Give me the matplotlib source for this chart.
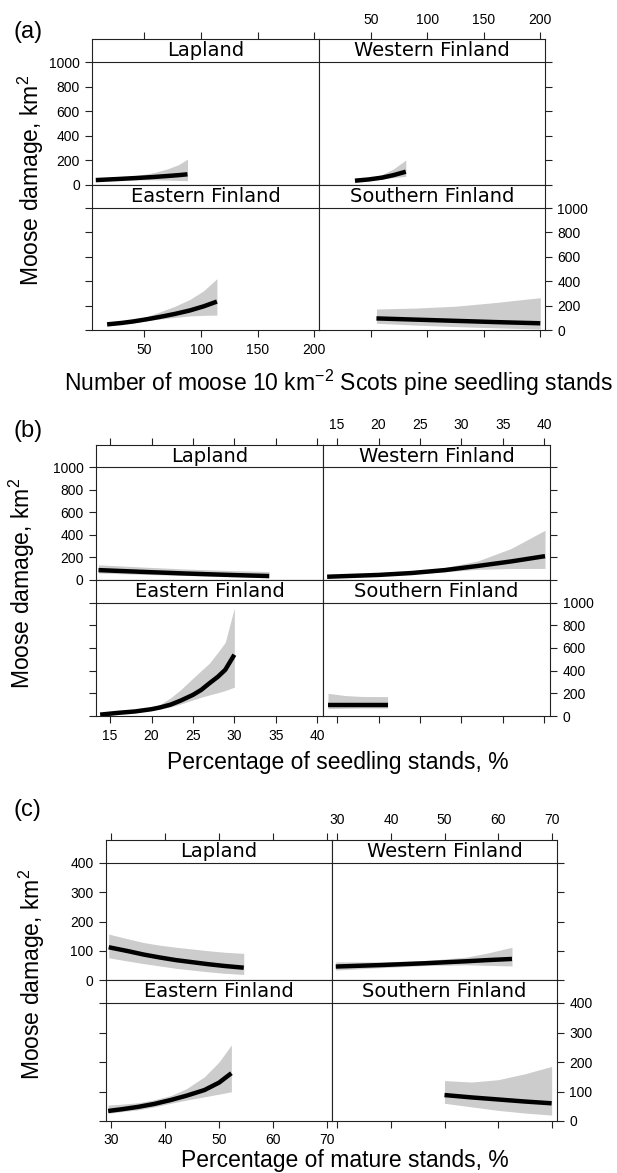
import matplotlib
matplotlib.use("Agg")
import matplotlib.pyplot as plt

plt.rcParams['font.family'] = ['Liberation Sans', 'DejaVu Sans']
plt.rcParams['mathtext.fontset'] = 'custom'
plt.rcParams['mathtext.rm'] = 'Liberation Sans'
plt.rcParams['mathtext.it'] = 'Liberation Sans:italic'
plt.rcParams['mathtext.bf'] = 'Liberation Sans:bold'

W, H = 617, 1173

regions = ["Lapland", "Western Finland", "Eastern Finland", "Southern Finland"]

# ---------------- Panel (a): moose density ----------------
a_xticks = [50, 100, 150, 200]
a_yticks = [0, 200, 400, 600, 800, 1000]
a_lap_x = [7, 25, 45, 58, 70, 80, 88]
a_lap_fit = [40, 48, 58, 65, 73, 80, 87]
a_lap_hi = [46, 58, 80, 100, 130, 165, 210]
a_lap_lo = [34, 39, 42, 42, 40, 37, 35]
a_wes_x = [36, 48, 60, 70, 81]
a_wes_fit = [35, 45, 60, 80, 108]
a_wes_hi = [40, 55, 85, 130, 203]
a_wes_lo = [30, 38, 48, 60, 70]
a_eas_x = [17, 30, 40, 52, 64, 77, 90, 102, 114]
a_eas_fit = [46, 58, 70, 88, 108, 132, 160, 193, 233]
a_eas_hi = [50, 64, 80, 110, 150, 195, 250, 320, 420]
a_eas_lo = [42, 54, 62, 76, 90, 103, 115, 120, 122]
a_sou_x = [55, 90, 125, 160, 200]
a_sou_fit = [95, 85, 75, 65, 55]
a_sou_hi = [172, 180, 195, 225, 265]
a_sou_lo = [55, 40, 28, 18, 8]

# ---------------- Panel (b): seedling stands % ----------------
b_xticks = [15, 20, 25, 30, 35, 40]
b_yticks = [0, 200, 400, 600, 800, 1000]
b_lap_x = [13.6, 19, 24, 29, 34.2]
b_lap_fit = [88, 72, 58, 46, 35]
b_lap_hi = [135, 115, 98, 85, 75]
b_lap_lo = [62, 50, 40, 30, 20]
b_wes_x = [13.8, 20, 24, 28, 32, 36, 40.1]
b_wes_fit = [29, 45, 62, 88, 125, 165, 212]
b_wes_hi = [32, 50, 70, 110, 170, 280, 442]
b_wes_lo = [26, 40, 55, 72, 95, 102, 103]
b_eas_x = [13.8, 16, 18, 20, 21, 22.3, 23.5, 25, 26, 27, 28, 28.9, 30]
b_eas_fit = [12, 28, 40, 60, 75, 100, 135, 186, 230, 289, 345, 407, 540]
b_eas_hi = [16, 32, 44, 70, 100, 160, 230, 333, 400, 466, 560, 649, 953]
b_eas_lo = [8, 24, 36, 50, 60, 80, 105, 142, 165, 186, 205, 224, 254]
b_sou_x = [13.9, 16, 18, 21.1]
b_sou_fit = [100, 100, 100, 100]
b_sou_hi = [200, 180, 172, 171]
b_sou_lo = [65, 68, 70, 70]

# ---------------- Panel (c): mature stands % ----------------
c_xticks = [30, 40, 50, 60, 70]
c_yticks = [0, 100, 200, 300, 400]
c_lap_x = [29.5, 33, 36, 39, 42, 45, 48, 51, 54.6]
c_lap_fit = [112, 99, 87, 77, 68, 61, 54, 48, 42]
c_lap_hi = [157, 141, 128, 119, 112, 106, 100, 95, 91]
c_lap_lo = [76, 65, 56, 48, 40, 34, 28, 23, 19]
c_wes_x = [29.7, 38, 46, 54, 58, 62.6]
c_wes_fit = [46, 51, 57, 64, 68, 72]
c_wes_hi = [62, 62, 66, 78, 92, 112]
c_wes_lo = [34, 42, 49, 52, 50, 48]
c_eas_x = [29.4, 32, 35, 38, 41, 44, 47.3, 50, 52.3]
c_eas_fit = [34, 40, 48, 58, 71, 86, 105, 130, 162]
c_eas_hi = [54, 57, 62, 72, 86, 110, 150, 200, 258]
c_eas_lo = [26, 32, 38, 48, 60, 71, 82, 91, 99]
c_sou_x = [50, 55, 60, 65, 70]
c_sou_fit = [88, 80, 73, 66, 60]
c_sou_hi = [137, 132, 140, 160, 185]
c_sou_lo = [60, 48, 36, 27, 20]

FRAME = '#222222'
BAND = '#cccccc'


def pos(l, r, t, b):
    return [l / W, 1 - b / H, (r - l) / W, (b - t) / H]


def draw_panel(letter, cols, rows, strip_px, xlim, xticks, yticks, series,
               xlabel, xlab_xy, ylab_xy, letter_xy):
    ymax = yticks[-1]
    for i in range(2):
        for j in range(2):
            k = i * 2 + j
            t, b = rows[i]
            l, r = cols[j]
            ax = fig.add_axes(pos(l, r, t, b))
            plot_px = (b - t) - strip_px
            sf = strip_px / plot_px
            ax.set_xlim(*xlim)
            ax.set_ylim(0, ymax * (1 + sf))
            x, fit, hi, lo = series[k]
            ax.fill_between(x, lo, hi, color=BAND, lw=0, zorder=1)
            ax.plot(x, fit, color='black', lw=3.2, solid_capstyle='butt',
                    solid_joinstyle='round', zorder=2)
            ax.axhline(ymax, color=FRAME, lw=0.8, zorder=3)
            ax.text(0.5, ymax * (1 + sf / 2), regions[k], transform=ax.get_yaxis_transform(),
                    ha='center', va='center', fontsize=14, family='DejaVu Sans')
            for s in ax.spines.values():
                s.set_color(FRAME)
                s.set_linewidth(0.8)
            ax.set_xticks(xticks)
            ax.set_yticks(yticks)
            ax.tick_params(direction='out', length=5, width=0.8, color=FRAME,
                           labelsize=10, pad=4,
                           top=(i == 0), bottom=(i == 1),
                           left=(j == 0), right=(j == 1),
                           labeltop=(i == 0 and j == 1), labelbottom=(i == 1 and j == 0),
                           labelleft=(i == 0 and j == 0), labelright=(i == 1 and j == 1))
    fig.text(xlab_xy[0] / W, 1 - xlab_xy[1] / H, xlabel, ha='center', va='center', fontsize=16.5)
    fig.text(ylab_xy[0] / W, 1 - ylab_xy[1] / H, r"Moose damage, km$^{2}$", ha='center', va='center',
             rotation=90, fontsize=16.5)
    fig.text(letter_xy[0] / W, 1 - letter_xy[1] / H, letter, ha='center', va='center', fontsize=17)


fig = plt.figure(figsize=(W / 100, H / 100), dpi=100)

draw_panel("(a)", [(92.4, 318.8), (318.8, 544.8)], [(39, 185), (185, 330)], 23,
           (4, 204), a_xticks, a_yticks,
           [(a_lap_x, a_lap_fit, a_lap_hi, a_lap_lo), (a_wes_x, a_wes_fit, a_wes_hi, a_wes_lo),
            (a_eas_x, a_eas_fit, a_eas_hi, a_eas_lo), (a_sou_x, a_sou_fit, a_sou_hi, a_sou_lo)],
           r"Number of moose 10 km$^{-2}$ Scots pine seedling stands", (339, 383), (31, 180), (28, 32))

draw_panel("(b)", [(96, 323), (323, 550)], [(445, 580), (580, 716)], 22.5,
           (13.3, 40.7), b_xticks, b_yticks,
           [(b_lap_x, b_lap_fit, b_lap_hi, b_lap_lo), (b_wes_x, b_wes_fit, b_wes_hi, b_wes_lo),
            (b_eas_x, b_eas_fit, b_eas_hi, b_eas_lo), (b_sou_x, b_sou_fit, b_sou_hi, b_sou_lo)],
           "Percentage of seedling stands, %", (338, 762), (22, 583), (28, 431))

draw_panel("(c)", [(106, 332), (332, 557)], [(840, 980), (980, 1121)], 23,
           (29, 71), c_xticks, c_yticks,
           [(c_lap_x, c_lap_fit, c_lap_hi, c_lap_lo), (c_wes_x, c_wes_fit, c_wes_hi, c_wes_lo),
            (c_eas_x, c_eas_fit, c_eas_hi, c_eas_lo), (c_sou_x, c_sou_fit, c_sou_hi, c_sou_lo)],
           "Percentage of mature stands, %", (345, 1160), (32, 974), (27, 810))

fig.savefig("out.png", dpi=100)
